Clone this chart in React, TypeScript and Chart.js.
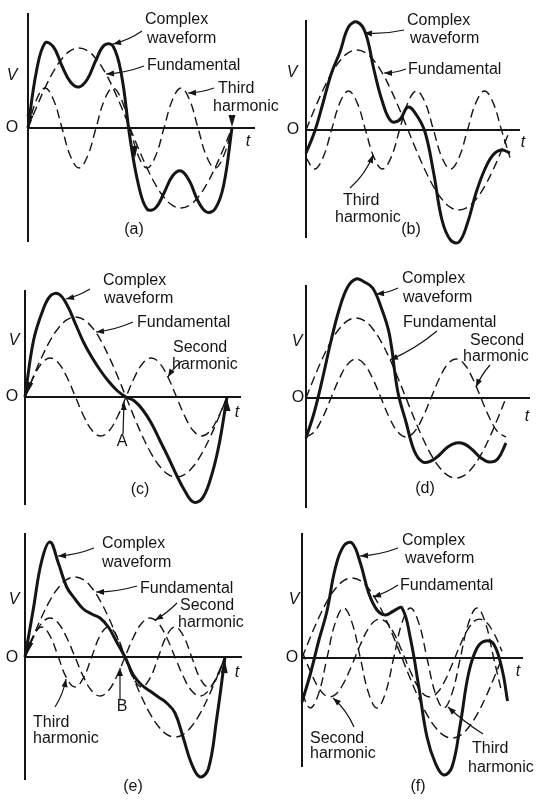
import { useEffect, useRef } from "react";
import { Chart, registerables } from "chart.js";

Chart.register(...registerables);

// ---------- data (angle of the fundamental in degrees, voltage in arbitrary units) ----------
const THETA = [0, 15, 30, 45, 60, 75, 90, 105, 120, 135, 150, 165, 180, 195, 210, 225, 240, 255, 270, 285, 300, 315, 330, 345, 360];
const THETA_F_COMPLEX = [0, 15, 30, 45, 60, 75, 90, 105, 120, 135, 150, 165, 180, 195, 210, 225, 240, 255, 270, 285, 300, 315, 330, 345, 360, 370];

const FUNDAMENTAL = [0, 2.07, 4, 5.66, 6.93, 7.73, 8, 7.73, 6.93, 5.66, 4, 2.07, 0, -2.07, -4, -5.66, -6.93, -7.73, -8, -7.73, -6.93, -5.66, -4, -2.07, 0];

// (a) fundamental + third harmonic in phase
const THIRD_A = [0, 2.83, 4, 2.83, 0, -2.83, -4, -2.83, 0, 2.83, 4, 2.83, 0, -2.83, -4, -2.83, 0, 2.83, 4, 2.83, 0, -2.83, -4, -2.83, 0];
const COMPLEX_A = [0, 5.7, 8.5, 8.1, 6.2, 4.6, 4.1, 4.9, 6.8, 8.3, 8.2, 5.3, -1.0, -5.7, -8.1, -8.0, -6.5, -4.8, -4.3, -5.3, -7.3, -8.4, -8.1, -5.8, 0];

// (b) fundamental + third harmonic out of phase
const THIRD_B = [-2.76, -3.9, -2.76, 0, 2.76, 3.9, 2.76, 0, -2.76, -3.9, -2.76, 0, 2.76, 3.9, 2.76, 0, -2.76, -3.9, -2.76, 0, 2.76, 3.9, 2.76, 0, -2.76];
const COMPLEX_B = [-2.3, -0.2, 2.7, 5.7, 7.8, 10.3, 10.8, 9.7, 6.0, 2.8, 0.9, 1.0, 2.3, 1.5, -0.2, -4.2, -9.0, -11.0, -11.2, -9.3, -6.3, -4.0, -2.5, -2.0, -2.3];

// (c) fundamental + second harmonic in phase
const SECOND_C = [0, 1.95, 3.38, 3.9, 3.38, 1.95, 0, -1.95, -3.38, -3.9, -3.38, -1.95, 0, 1.95, 3.38, 3.9, 3.38, 1.95, 0, -1.95, -3.38, -3.9, -3.38, -1.95, 0];
const COMPLEX_C = [0, 5.6, 8.4, 10.1, 10.3, 9.2, 7.3, 5.4, 3.9, 2.6, 1.5, 0.6, 0, -0.4, -1.3, -2.6, -4.3, -6.0, -7.8, -9.4, -10.5, -10.2, -8.3, -5.0, 0];

// (d) fundamental + second harmonic lagging
const SECOND_D = [-3.9, -3.38, -1.95, 0, 1.95, 3.38, 3.9, 3.38, 1.95, 0, -1.95, -3.38, -3.9, -3.38, -1.95, 0, 1.95, 3.38, 3.9, 3.38, 1.95, 0, -1.95, -3.38, -3.9];
const COMPLEX_D = [-4, -1.4, 2, 5.7, 8.9, 11.1, 11.9, 11.6, 11.0, 9.1, 6.4, 0.7, -2.4, -5.3, -6.4, -6.3, -5.7, -4.9, -4.5, -4.6, -5.2, -6.0, -6.4, -6.1, -4.5];

// (e) fundamental + second + third harmonics
const SECOND_E = [0, 1.95, 3.38, 3.9, 3.38, 1.95, 0, -1.95, -3.38, -3.9, -3.38, -1.95, 0, 1.95, 3.38, 3.9, 3.38, 1.95, 0, -1.95, -3.38, -3.9, -3.38, -1.95, 0];
const THIRD_E = [0, 2.12, 3, 2.12, 0, -2.12, -3, -2.12, 0, 2.12, 3, 2.12, 0, -2.12, -3, -2.12, 0, 2.12, 3, 2.12, 0, -2.12, -3, -2.12, 0];
const COMPLEX_E = [0, 4.8, 9.6, 11.5, 9.4, 7.0, 5.8, 4.8, 4.3, 3.9, 3.0, 1.5, 0, -1.8, -2.8, -3.4, -4.0, -4.6, -5.6, -8.1, -10.7, -12.0, -11.2, -6.2, 0];

// (f) fundamental + shifted second + shifted third harmonics
const SECOND_F = [0.68, -1.33, -2.99, -3.84, -3.66, -2.51, -0.68, 1.33, 2.99, 3.84, 3.66, 2.51, 0.68, -1.33, -2.99, -3.84, -3.66, -2.51, -0.68, 1.33, 2.99, 3.84, 3.66, 2.51, 0.68];
const THIRD_F = [-3.54, -5, -3.54, 0, 3.54, 5, 3.54, 0, -3.54, -5, -3.54, 0, 3.54, 5, 3.54, 0, -3.54, -5, -3.54, 0, 3.54, 5, 3.54, 0, -3.54];
const COMPLEX_F = [-4.4, -1.6, 1.7, 4.7, 9.0, 11.2, 11.5, 9.5, 6.5, 4.8, 4.3, 4.7, 5.0, 2.0, -2.8, -7.9, -10.5, -11.7, -10.9, -6.6, -1.5, 1.0, 1.7, 1.4, -1.1, -4.3];

// ---------- layout (page pixels) ----------
const W = 539;
const H = 801;
const PX_PER_UNIT = 10;
const FONT = '"Liberation Sans", Arial, Helvetica, sans-serif';
const INK = "#151515";

type Panel = {
  key: string;
  ox: number; oy: number; period: number; top: number; bottom: number; xEnd: number;
  series: { theta: number[]; values: number[]; solid: boolean }[];
};

const PANELS: Panel[] = [
  { key: "a", ox: 28, oy: 128, period: 204, top: 13, bottom: 242, xEnd: 255,
    series: [
      { theta: THETA, values: FUNDAMENTAL, solid: false },
      { theta: THETA, values: THIRD_A, solid: false },
      { theta: THETA, values: COMPLEX_A, solid: true },
    ] },
  { key: "b", ox: 306, oy: 130, period: 204, top: 20, bottom: 238, xEnd: 520,
    series: [
      { theta: THETA, values: FUNDAMENTAL, solid: false },
      { theta: THETA, values: THIRD_B, solid: false },
      { theta: THETA, values: COMPLEX_B, solid: true },
    ] },
  { key: "c", ox: 25, oy: 397, period: 202, top: 290, bottom: 505, xEnd: 241,
    series: [
      { theta: THETA, values: FUNDAMENTAL, solid: false },
      { theta: THETA, values: SECOND_C, solid: false },
      { theta: THETA, values: COMPLEX_C, solid: true },
    ] },
  { key: "d", ox: 306, oy: 398, period: 200, top: 285, bottom: 508, xEnd: 530,
    series: [
      { theta: THETA, values: FUNDAMENTAL, solid: false },
      { theta: THETA, values: SECOND_D, solid: false },
      { theta: THETA, values: COMPLEX_D, solid: true },
    ] },
  { key: "e", ox: 25, oy: 657, period: 200, top: 533, bottom: 780, xEnd: 242,
    series: [
      { theta: THETA, values: FUNDAMENTAL, solid: false },
      { theta: THETA, values: SECOND_E, solid: false },
      { theta: THETA, values: THIRD_E, solid: false },
      { theta: THETA, values: COMPLEX_E, solid: true },
    ] },
  { key: "f", ox: 302, oy: 658, period: 200, top: 533, bottom: 767, xEnd: 523,
    series: [
      { theta: THETA, values: FUNDAMENTAL, solid: false },
      { theta: THETA, values: SECOND_F, solid: false },
      { theta: THETA, values: THIRD_F, solid: false },
      { theta: THETA_F_COMPLEX, values: COMPLEX_F, solid: true },
    ] },
];

// text: left x, baseline y
const TEXTS: { t: string; x: number; y: number }[] = [
  { t: "Complex", x: 145, y: 24 }, { t: "waveform", x: 147, y: 43 }, { t: "Fundamental", x: 147, y: 70 },
  { t: "Third", x: 218, y: 93 }, { t: "harmonic", x: 213, y: 111 },
  { t: "Complex", x: 407, y: 25 }, { t: "waveform", x: 410, y: 43 }, { t: "Fundamental", x: 408, y: 74 },
  { t: "Third", x: 343, y: 205 }, { t: "harmonic", x: 335, y: 222 },
  { t: "Complex", x: 103, y: 285 }, { t: "waveform", x: 104, y: 303 }, { t: "Fundamental", x: 137, y: 327 },
  { t: "Second", x: 173, y: 352 }, { t: "harmonic", x: 172, y: 369 },
  { t: "Complex", x: 402, y: 283 }, { t: "waveform", x: 403, y: 302 }, { t: "Fundamental", x: 403, y: 327 },
  { t: "Second", x: 470, y: 345 }, { t: "harmonic", x: 463, y: 361 },
  { t: "Complex", x: 102, y: 548 }, { t: "waveform", x: 102, y: 567 }, { t: "Fundamental", x: 140, y: 593 },
  { t: "Second", x: 180, y: 610 }, { t: "harmonic", x: 178, y: 627 },
  { t: "Third", x: 33, y: 727 }, { t: "harmonic", x: 33, y: 743 },
  { t: "Complex", x: 402, y: 545 }, { t: "waveform", x: 405, y: 563 }, { t: "Fundamental", x: 400, y: 590 },
  { t: "Second", x: 310, y: 743 }, { t: "harmonic", x: 310, y: 758 },
  { t: "Third", x: 472, y: 753 }, { t: "harmonic", x: 468, y: 772 },
];

// centred glyphs: axis letters, captions, points
const CENTRED: { t: string; x: number; y: number; italic?: boolean }[] = [
  { t: "V", x: 12, y: 76, italic: true }, { t: "O", x: 12, y: 128 }, { t: "t", x: 248, y: 142, italic: true }, { t: "(a)", x: 134, y: 230 },
  { t: "V", x: 292, y: 73, italic: true }, { t: "O", x: 293, y: 130 }, { t: "t", x: 523, y: 143, italic: true }, { t: "(b)", x: 411, y: 230 },
  { t: "V", x: 14, y: 341, italic: true }, { t: "O", x: 12, y: 397 }, { t: "t", x: 237, y: 413, italic: true }, { t: "(c)", x: 140, y: 490 },
  { t: "A", x: 122, y: 442 },
  { t: "V", x: 297, y: 342, italic: true }, { t: "O", x: 298, y: 398 }, { t: "t", x: 527, y: 417, italic: true }, { t: "(d)", x: 425, y: 489 },
  { t: "V", x: 14, y: 600, italic: true }, { t: "O", x: 12, y: 658 }, { t: "t", x: 237, y: 673, italic: true }, { t: "(e)", x: 133, y: 787 },
  { t: "B", x: 122, y: 707 },
  { t: "V", x: 294, y: 600, italic: true }, { t: "O", x: 292, y: 658 }, { t: "t", x: 518, y: 672, italic: true }, { t: "(f)", x: 418, y: 787 },
];

// leader arrows
const ARROWS: { from: [number, number]; to: [number, number]; bend: number }[] = [
  { from: [142, 31], to: [113, 44], bend: -3 },
  { from: [144, 66], to: [106, 74], bend: -3 },
  { from: [214, 88], to: [188, 93], bend: -2 },
  { from: [404, 30], to: [364, 33], bend: -3 },
  { from: [406, 69], to: [384, 73], bend: -2 },
  { from: [350, 188], to: [373, 155], bend: 5 },
  { from: [90, 289], to: [66, 299], bend: -2 },
  { from: [133, 322], to: [96, 332], bend: -3 },
  { from: [182, 361], to: [168, 377], bend: 2 },
  { from: [123, 434], to: [124, 402], bend: 0 },
  { from: [398, 288], to: [376, 294], bend: -2 },
  { from: [437, 331], to: [390, 360], bend: -4 },
  { from: [490, 365], to: [476, 387], bend: 2 },
  { from: [94, 548], to: [58, 556], bend: -3 },
  { from: [137, 586], to: [96, 592], bend: -3 },
  { from: [177, 603], to: [155, 620], bend: -2 },
  { from: [55, 707], to: [66, 679], bend: 3 },
  { from: [120, 700], to: [120, 668], bend: 0 },
  { from: [398, 548], to: [360, 556], bend: -3 },
  { from: [398, 585], to: [373, 597], bend: -2 },
  { from: [354, 727], to: [333, 698], bend: 4 },
  { from: [483, 734], to: [448, 707], bend: -2 },
];

// small arrowheads marking the ends of the complex waves
const MARKERS: { from: [number, number]; to: [number, number] }[] = [
  { from: [31, 110], to: [28, 127] },
  { from: [232, 111], to: [232, 127] },
  { from: [134, 143], to: [135, 158] },
  { from: [32, 374], to: [27, 394] },
  { from: [227, 414], to: [227, 399] },
  { from: [32, 634], to: [27, 654] },
  { from: [224, 677], to: [225, 661] },
];

function arrowHead(ctx: CanvasRenderingContext2D, fx: number, fy: number, tx: number, ty: number, len: number, half: number) {
  const a = Math.atan2(ty - fy, tx - fx);
  const c = Math.cos(a), s = Math.sin(a);
  ctx.beginPath();
  ctx.moveTo(tx, ty);
  ctx.lineTo(tx - len * c - half * s, ty - len * s + half * c);
  ctx.lineTo(tx - len * c + half * s, ty - len * s - half * c);
  ctx.closePath();
  ctx.fill();
}

const figurePlugin = {
  id: "figureAnnotations",
  beforeDraw(chart: any) {
    const ctx = chart.ctx;
    ctx.save();
    ctx.fillStyle = "#ffffff";
    ctx.fillRect(0, 0, chart.width, chart.height);
    ctx.restore();
  },
  beforeDatasetsDraw(chart: any) {
    const ctx: CanvasRenderingContext2D = chart.ctx;
    ctx.save();
    ctx.strokeStyle = INK;
    ctx.lineWidth = 2;
    ctx.lineCap = "butt";
    for (const p of PANELS) {
      const xs = chart.scales["x" + p.key];
      const ys = chart.scales["y" + p.key];
      const x0 = xs.getPixelForValue(0);
      const y0 = ys.getPixelForValue(0);
      ctx.beginPath();
      ctx.moveTo(x0, p.top);
      ctx.lineTo(x0, p.bottom);
      ctx.moveTo(x0, y0);
      ctx.lineTo(p.xEnd, y0);
      ctx.stroke();
    }
    ctx.restore();
  },
  afterDatasetsDraw(chart: any) {
    const ctx: CanvasRenderingContext2D = chart.ctx;
    ctx.save();
    ctx.fillStyle = INK;
    ctx.strokeStyle = INK;
    ctx.font = `16px ${FONT}`;
    ctx.textAlign = "left";
    ctx.textBaseline = "alphabetic";
    for (const t of TEXTS) ctx.fillText(t.t, t.x, t.y);
    ctx.textAlign = "center";
    ctx.textBaseline = "middle";
    for (const t of CENTRED) {
      ctx.font = `${t.italic ? "italic " : ""}16px ${FONT}`;
      ctx.fillText(t.t, t.x, t.y);
    }
    ctx.lineWidth = 1.2;
    for (const a of ARROWS) {
      const [x1, y1] = a.from;
      const [x2, y2] = a.to;
      const dx = x2 - x1, dy = y2 - y1;
      const len = Math.hypot(dx, dy) || 1;
      const cx = (x1 + x2) / 2 - (dy / len) * a.bend;
      const cy = (y1 + y2) / 2 + (dx / len) * a.bend;
      ctx.beginPath();
      ctx.moveTo(x1, y1);
      ctx.quadraticCurveTo(cx, cy, x2, y2);
      ctx.stroke();
      arrowHead(ctx, cx, cy, x2, y2, 8, 3);
    }
    for (const m of MARKERS) {
      arrowHead(ctx, m.from[0], m.from[1], m.to[0], m.to[1], 12, 3.5);
    }
    ctx.restore();
  },
};

export default function App() {
  const canvasRef = useRef<HTMLCanvasElement | null>(null);

  useEffect(() => {
    const canvas = canvasRef.current;
    if (!canvas) return;

    const datasets: any[] = [];
    const scales: any = {};
    for (const p of PANELS) {
      const kx = p.period / 360;
      scales["x" + p.key] = {
        type: "linear", axis: "x", display: false,
        min: -p.ox / kx, max: (W - p.ox) / kx,
      };
      scales["y" + p.key] = {
        type: "linear", axis: "y", display: false,
        min: -(H - p.oy) / PX_PER_UNIT, max: p.oy / PX_PER_UNIT,
      };
      p.series.forEach((s, i) => {
        datasets.push({
          label: `${p.key}-${i}`,
          data: s.theta.map((t, j) => ({ x: t, y: s.values[j] })),
          xAxisID: "x" + p.key,
          yAxisID: "y" + p.key,
          borderColor: INK,
          borderWidth: s.solid ? 3 : 1.4,
          borderDash: s.solid ? [] : [9, 5],
          borderCapStyle: "butt",
          pointRadius: 0,
          tension: 0.4,
          fill: false,
          order: s.solid ? 0 : 1,
        });
      });
    }

    const chart = new Chart(canvas, {
      type: "line",
      data: { datasets },
      options: {
        animation: false,
        responsive: false,
        devicePixelRatio: 1,
        events: [],
        layout: { padding: 0 },
        plugins: { legend: { display: false }, tooltip: { enabled: false }, title: { display: false } },
        scales,
      },
      plugins: [figurePlugin],
    } as any);

    return () => chart.destroy();
  }, []);

  return (
    <div style={{ position: "absolute", left: 0, top: 0, width: W, height: H, background: "#fff" }}>
      <canvas ref={canvasRef} width={W} height={H} style={{ display: "block", width: W, height: H }} />
    </div>
  );
}
